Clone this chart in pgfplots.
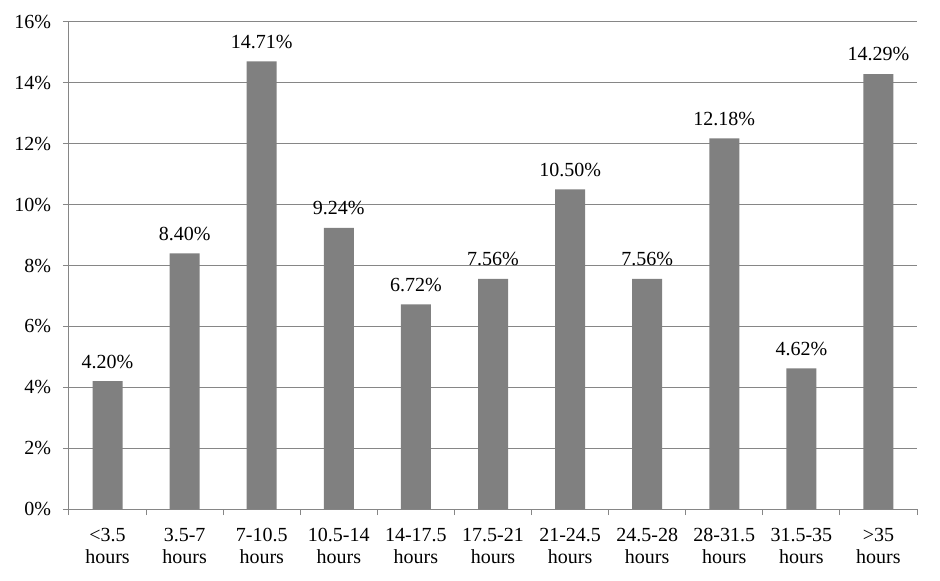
\documentclass[border=0pt]{standalone}
\usepackage{pgfplots}
\pgfplotsset{compat=1.18}
\usepackage{fontspec}
\setmainfont{Liberation Serif}
\definecolor{barg}{HTML}{808080}
\definecolor{gridg}{HTML}{868686}
\begin{document}
\fontsize{20}{22}\selectfont
\begin{tikzpicture}
\begin{axis}[
  scale only axis,
  width=848pt, height=487pt,
  xmin=-0.5, xmax=10.5,
  ymin=0, ymax=16,
  ytick={0,2,...,16},
  yticklabel={\pgfmathprintnumber{\tick}\%},
  /pgf/number format/assume math mode=true,
  ymajorgrids,
  grid style={gridg, line width=1pt},
  axis line style={gridg, line width=1pt},
  axis x line*=bottom,
  axis y line*=left,
  tick style={gridg, line width=1pt},
  tick align=outside,
  major tick length=6pt,
  xtick={-0.5,0.5,...,10.5},
  xticklabels={},
  extra x ticks={0,...,10},
  extra x tick labels={{<3.5\\hours},{3.5-7\\hours},{7-10.5\\hours},{10.5-14\\hours},{14-17.5\\hours},{17.5-21\\hours},{21-24.5\\hours},{24.5-28\\hours},{28-31.5\\hours},{31.5-35\\hours},{>35\\hours}},
  extra x tick style={major tick length=0pt, grid=none, tick label style={align=center, font=\fontsize{20}{22}\selectfont, yshift=-12pt}},
  y tick label style={font=\fontsize{20}{22}\selectfont, xshift=-5pt},
  ybar, bar width=30pt,
  nodes near coords={\pgfmathprintnumber[fixed,fixed zerofill,precision=2]{\pgfplotspointmeta}\%},
  nodes near coords style={font=\fontsize{20}{22}\selectfont, yshift=6pt},
  clip=false,
]
\addplot[fill=barg, draw=none] coordinates {
(0,4.20) (1,8.40) (2,14.71) (3,9.24) (4,6.72) (5,7.56) (6,10.50) (7,7.56) (8,12.18) (9,4.62) (10,14.29)};
\coordinate (o) at (rel axis cs:0,0);
\coordinate (t) at (rel axis cs:1,1);
\end{axis}
\pgfresetboundingbox
\path ([shift={(-69pt,-72pt)}]o) rectangle ([shift={(23pt,22pt)}]t);
\end{tikzpicture}
\end{document}
